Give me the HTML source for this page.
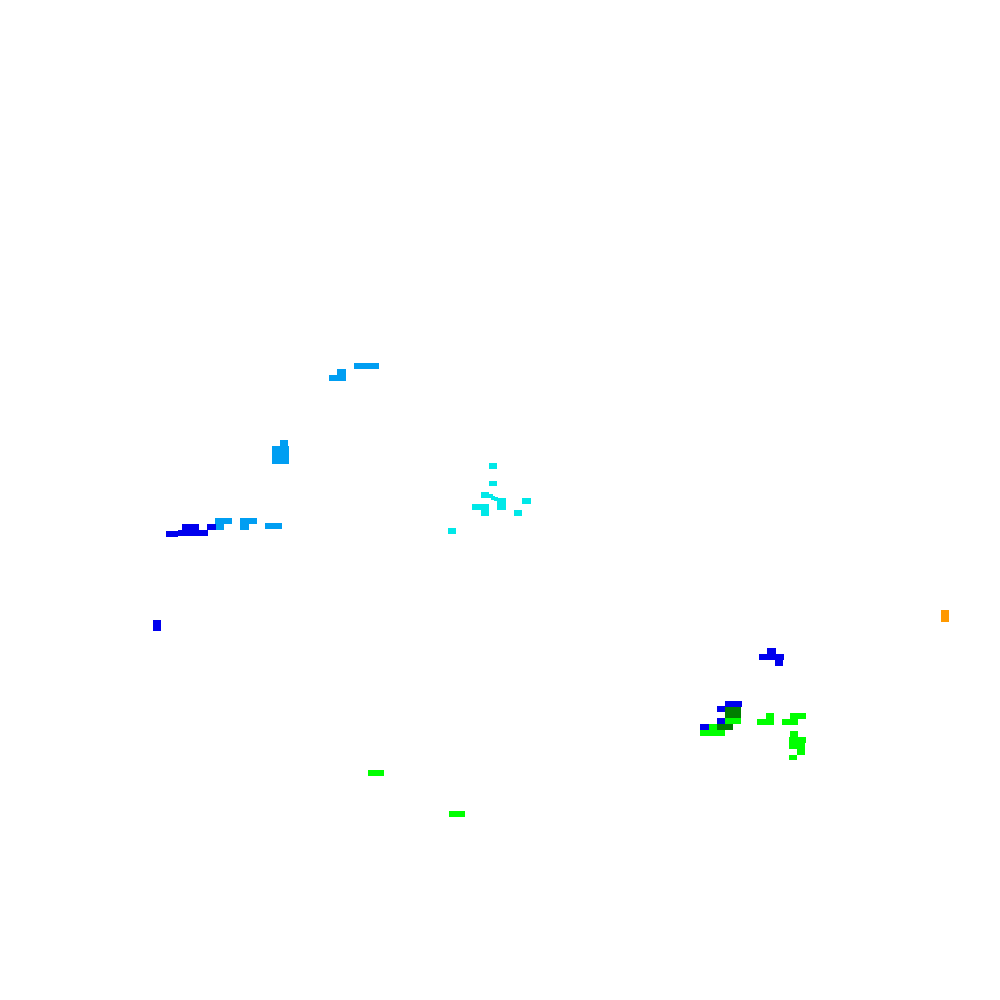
<!DOCTYPE html>
<html><head><style>
html,body{margin:0;padding:0;background:#fff;}
#c{position:relative;width:1000px;height:1000px;overflow:hidden;background:#fff;}
#c div{position:absolute;}
.lb{background:#009EF2}.b{background:#0000EE}.c{background:#00E8E8}
.g{background:#00FF00}.dg{background:#007F00}.o{background:#FF9900}
</style></head><body><div id="c">
<div class="lb" style="left:354px;top:363px;width:25px;height:6px"></div>
<div class="lb" style="left:337px;top:369px;width:9px;height:12px"></div>
<div class="lb" style="left:329px;top:375px;width:17px;height:6px"></div>
<div class="lb" style="left:280px;top:440px;width:8px;height:12px"></div>
<div class="lb" style="left:272px;top:446px;width:17px;height:18px"></div>
<div class="lb" style="left:215px;top:518px;width:17px;height:6px"></div>
<div class="lb" style="left:215px;top:518px;width:9px;height:12px"></div>
<div class="lb" style="left:240px;top:518px;width:17px;height:6px"></div>
<div class="lb" style="left:240px;top:518px;width:9px;height:12px"></div>
<div class="lb" style="left:265px;top:523px;width:17px;height:6px"></div>
<div class="b" style="left:166px;top:531px;width:12px;height:6px"></div>
<div class="b" style="left:182px;top:524px;width:17px;height:6px"></div>
<div class="b" style="left:178px;top:530px;width:30px;height:6px"></div>
<div class="b" style="left:207px;top:524px;width:9px;height:6px"></div>
<div class="b" style="left:153px;top:620px;width:8px;height:11px"></div>
<div class="o" style="left:941px;top:610px;width:8px;height:12px"></div>
<div class="g" style="left:368px;top:770px;width:16px;height:6px"></div>
<div class="g" style="left:449px;top:811px;width:16px;height:6px"></div>
<div class="c" style="left:489px;top:463px;width:8px;height:6px"></div>
<div class="c" style="left:489px;top:481px;width:8px;height:5px"></div>
<div class="c" style="left:481px;top:492px;width:8px;height:6px"></div>
<div class="c" style="left:489px;top:494px;width:4px;height:4px"></div>
<div class="c" style="left:491px;top:496px;width:4px;height:4px"></div>
<div class="c" style="left:494px;top:497px;width:4px;height:4px"></div>
<div class="c" style="left:497px;top:498px;width:9px;height:12px"></div>
<div class="c" style="left:472px;top:504px;width:17px;height:6px"></div>
<div class="c" style="left:481px;top:510px;width:8px;height:6px"></div>
<div class="c" style="left:522px;top:498px;width:9px;height:6px"></div>
<div class="c" style="left:514px;top:510px;width:8px;height:6px"></div>
<div class="c" style="left:448px;top:528px;width:8px;height:6px"></div>
<div class="b" style="left:767px;top:648px;width:9px;height:6px"></div>
<div class="b" style="left:759px;top:654px;width:25px;height:6px"></div>
<div class="b" style="left:775px;top:660px;width:8px;height:6px"></div>
<div class="b" style="left:725px;top:701px;width:17px;height:6px"></div>
<div class="b" style="left:717px;top:706px;width:16px;height:6px"></div>
<div class="dg" style="left:725px;top:707px;width:16px;height:11px"></div>
<div class="b" style="left:717px;top:718px;width:8px;height:6px"></div>
<div class="g" style="left:725px;top:718px;width:16px;height:6px"></div>
<div class="b" style="left:700px;top:724px;width:9px;height:6px"></div>
<div class="g" style="left:709px;top:724px;width:8px;height:6px"></div>
<div class="dg" style="left:717px;top:724px;width:16px;height:6px"></div>
<div class="g" style="left:700px;top:730px;width:25px;height:6px"></div>
<div class="g" style="left:766px;top:713px;width:8px;height:7px"></div>
<div class="g" style="left:757px;top:719px;width:17px;height:6px"></div>
<div class="g" style="left:790px;top:713px;width:16px;height:6px"></div>
<div class="g" style="left:782px;top:719px;width:16px;height:6px"></div>
<div class="g" style="left:790px;top:731px;width:8px;height:6px"></div>
<div class="g" style="left:789px;top:737px;width:17px;height:6px"></div>
<div class="g" style="left:789px;top:743px;width:16px;height:6px"></div>
<div class="g" style="left:797px;top:749px;width:8px;height:6px"></div>
<div class="g" style="left:789px;top:755px;width:8px;height:5px"></div>
</div></body></html>
